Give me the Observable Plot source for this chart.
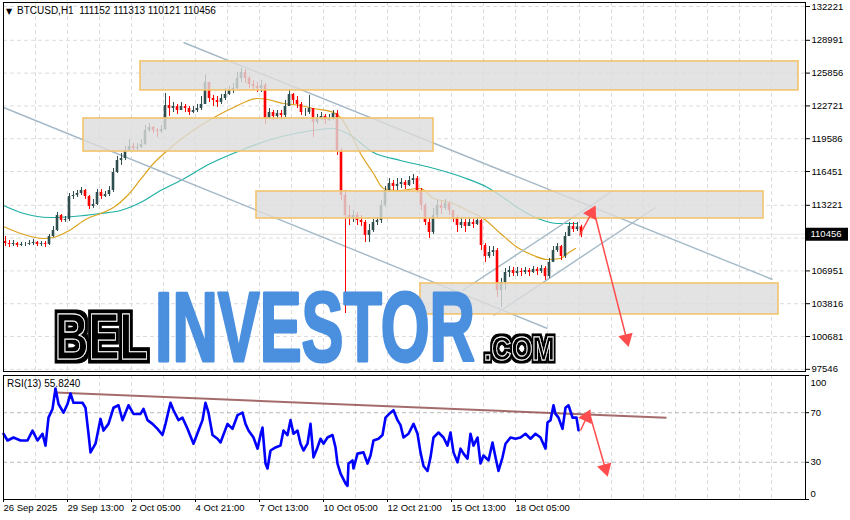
<!DOCTYPE html>
<html><head><meta charset="utf-8">
<script src="https://cdn.jsdelivr.net/npm/d3@7"></script>
<script src="https://cdn.jsdelivr.net/npm/@observablehq/plot@0.6"></script>
<style>
body{margin:0;background:#fff;}
#wrap{position:relative;width:850px;height:520px;overflow:hidden;font-family:"Liberation Sans",Arial,sans-serif;}
#wrap > *{position:absolute;left:0;}
</style></head><body><div id="wrap"></div>
<script>
// ---------- data ----------
const symbol = "BTCUSD,H1";
const lastOHLC = [111152, 111313, 110121, 110456];
const barHours = 4; // each candle = 4 hours, hour 0 = 26 Sep 2025 21:00
const firstOpen = 109760;
const closes = [
109570,109480,109570,109380,109480,109480,109570,109670,109480,109570,
109480,110240,110810,112250,111770,111860,114060,114160,114350,114640,
114060,113110,113300,114450,114060,114250,114640,116360,117500,117690,
118460,118840,118650,118750,119030,120370,120660,120370,120270,120470,
122760,122470,122660,122280,122660,122470,122090,122280,122470,122860,
124960,123430,123240,123050,123430,123810,124190,124380,125340,125910,
125340,124770,124570,124380,124670,121520,122090,121710,121990,121800,
122660,123810,123240,122860,122090,122090,122470,121140,121520,121710,
121330,121520,121990,118460,114160,112250,111960,112250,111770,111580,
110340,110810,111580,111770,113200,114640,115310,115020,115210,115400,
115110,115590,115780,114640,113200,111580,110620,112250,113200,112920,
113390,112730,111960,111290,111580,111200,111580,111390,111770,109380,
108330,108710,108900,105080,105840,106800,106990,106700,106900,106800,
106990,106800,107090,106900,107180,106420,107760,108900,109280,108330,
110240,111200,110910,111152,110456];
const highs = [
110240,109860,109860,109670,109670,109670,109860,109950,109760,109760,
109760,110430,111200,112530,112340,112150,114350,114540,114640,114920,
114730,114160,113780,114730,114730,114540,115020,116740,117890,118170,
118840,119510,119130,119130,119510,120850,121040,120750,120560,120850,
123910,123620,123050,122860,123050,122860,122660,122660,122860,123620,
125720,124770,123720,123620,123810,124380,124570,124860,125910,126300,
126200,125530,125150,124960,125150,124860,122470,122280,122280,122280,
123240,124290,123910,123620,123050,122470,123720,122470,121900,122090,
121900,121900,122280,122280,118650,114640,113200,112730,112530,112250,
111770,111390,111860,112060,113680,115020,115780,115590,115780,115780,
115590,115970,116170,115970,114830,113390,111960,112920,113680,113580,
113780,113490,112730,112250,112060,111860,112060,111860,112060,111860,
109570,109280,109280,109090,106230,107180,107370,107280,107280,107180,
107280,107180,107370,107280,107470,107370,108140,109280,109570,109380,
110620,111580,111580,111580,111313];
const lows = [
109280,109190,109280,109190,109280,109280,109380,109380,109280,109280,
109190,109380,110150,110720,111580,111580,111670,113780,113970,114160,
113780,112820,112920,113200,113780,113970,114060,114450,116260,117030,
117500,118460,118460,118460,118650,118940,120180,120080,119700,120080,
120370,121710,122090,121900,122280,122090,121800,121990,122090,122280,
122860,123050,122660,122570,122860,123240,123720,123910,124190,124960,
124860,124380,124190,124000,124000,120940,121520,121330,121520,121420,
121610,122660,122860,122470,121800,121710,121900,119700,120940,121330,
120940,121230,121330,117980,113680,102880,111290,111580,111290,111200,
109670,109670,110620,111290,111480,113010,114450,114640,114640,114830,
114730,115020,115210,114350,112730,111290,110050,110430,111960,112340,
112730,112250,111580,110620,111000,110620,111200,111000,111290,108900,
107760,108140,108330,104410,103460,105080,106320,106420,106420,106420,
106610,106420,106700,106510,106700,106040,106230,107760,108710,107950,
108140,110430,110620,110720,110121];

// moving averages (hour, price)
const maFastH = [0,17,40,50,64,84,97,110,124,137,150,164,177,197,207,230,254,264,280,297,310,330,337,347,357,370,380,394,417,430,447,464,480,497,514,530,544,557,564,572];
const maFast  = [111196,110527,110049,110145,110718,111960,112438,113011,114158,115688,117217,118459,119510,120848,121421,122568,123428,123333,122950,122759,122472,122090,121612,120083,118172,116261,114827,114636,114827,113872,113489,112725,111960,110527,109189,108424,108042,108138,108615,109093];
const maSlowH = [0,17,47,70,97,117,137,157,177,207,237,264,297,329,344,370,397,427,460,484,504,514,537,554,574];
const maSlow  = [113202,112534,112056,112151,112438,112725,113489,114636,115592,117216,118459,119415,120179,120561,120083,118268,117503,116834,115879,114923,113680,113011,111865,111482,111482];

// RSI(13)
const rsiH = [0,4,10,17,24,29,34,39,42,45, 49,52,55,60,64,67,70,79,82,85, 87,92,97,100,105,110,115,119,125,130,
137,140,144,149,154,159,162,167,170,175, 179,184,190,195,199,202,205,209,214,217, 224,229,234,239,242,245,250,254,257,259,
262,264,267,272,277,280,284,287,290,294, 297,300,304,307,310,314,317,320,324,329, 332,334,337,342,344,345,349,350,354,360,
364,367,370,375,379,382,387,390,394,397, 400,405,410,414,417,420,424,427,430,435, 440,444,447,450,454,457,460,464,467,470,
474,477,480,485,489,492,495,499,502,507, 512,517,522,527,532,537,542,544,547,550, 552,555,559,562,565,569,573,575];
const rsiV = [53,47.6,50,47.6,47.6,55.6,47.6,53,43.5,66, 73,89.5,77,70,77,85.5,78,78,74,53, 38,45,65,55.6,61,74,76,64,76,69,
69,73,64,61,57,52,61,78,72,64, 66,57,45,55.6,64,78,70,52,49,46, 61,57,68,70,61,55.6,50,41,52,58,
29,25,39.5,42,43.5,55.6,52,64,53,55.6, 45,39.5,45,61,34,42,49,45,50,52, 42,29,21,13,11,29,31.5,25,37,38,
29,35.5,47.6,49,52,66,70,72,64,60, 50,53,61,53,38,27,23,34,50,54, 50,43.5,54,38,30,41,37,33,53,43.5,
50,29,35.5,31.5,46,34,23,34,45,50, 49,50,53,49,53,50,41,62,64,76, 69,66,57,74,76,66,66,55.82];
const rsiLabel = "RSI(13) 55.8240";

// axis ticks
const priceTicks = [132221,128991,125856,122721,119586,116451,113221,110086,106951,103816,100681,97546];
const hiddenTick = 110086; // covered by the current-price label
const timeTickH = [0,64,128,192,256,320,384,448,512];
const timeLabels = ["26 Sep 2025","29 Sep 13:00","2 Oct 05:00","4 Oct 21:00","7 Oct 13:00","10 Oct 05:00","12 Oct 21:00","15 Oct 13:00","18 Oct 05:00"];
const gridH = d3.range(32, 800, 32);

// zones (support / resistance)
const zoneFromH = [137, 80, 253, 417];
const zoneToH   = [795, 430, 760, 775];
const zoneLow   = [124200, 118360, 111960, 102790];
const zoneHigh  = [126970, 121520, 114540, 105750];

// channel lines
const chX1 = [180, 0, 459, 490], chP1 = [128780, 122568, 105079, 102690];
const chX2 = [769, 544, 607, 652], chP2 = [106130, 101447, 114445, 113011];

// forecast arrows
const arX1 = [576, 590], arP1 = [110336, 112820], arX2 = [590, 624], arP2 = [112820, 100109];
const rArX1 = [577, 586], rArV1 = [55.6, 69.4], rArX2 = [585, 603], rArV2 = [69.4, 21.8];
const rsiTrendH = [52, 663], rsiTrendV = [86.3, 66];

// ---------- build ----------
const opens = [firstOpen].concat(closes.slice(0, -1));
const candles = closes.map((c, i) => ({h: i * barHours, o: opens[i], c, hi: Math.max(highs[i], opens[i], c), lo: Math.min(lows[i], opens[i], c)}));
const col = d => d.c >= d.o ? "#2f4f4f" : "#ff0000";
const zones = zoneFromH.map((x1, i) => ({x1, x2: zoneToH[i], y1: zoneLow[i], y2: zoneHigh[i]}));
const channels = chX1.map((x1, i) => ({x1, y1: chP1[i], x2: chX2[i], y2: chP2[i]}));
const fast = maFastH.map((h, i) => ({h, v: maFast[i]}));
const slow = maSlowH.map((h, i) => ({h, v: maSlow[i]}));
const rsi = rsiH.map((h, i) => ({h, v: rsiV[i]}));
const last = lastOHLC[3];

const W = 850, mL = 3, mR = 45;
const xDomain = [0, 802];
const mainH = 372, mT = 2, mB = 1;
const priceDomain = [97338, 132603];
const pxX = (W - mL - mR) / (xDomain[1] - xDomain[0]);
const pxYmain = (mainH - mT - mB) / (priceDomain[1] - priceDomain[0]);
const rsiHgt = 148, rT = 3, rB = 21;
const pxYrsi = (rsiHgt - rT - rB) / 100;

function heads(x1s, y1s, x2s, y2s, pxY) {
  return x1s.map((x1, i) => {
    const sx = (x2s[i] - x1) * pxX, sy = -(y2s[i] - y1s[i]) * pxY;
    const len = Math.hypot(sx, sy), ux = sx / len, uy = sy / len, back = 4;
    return {x: x2s[i] - ux * back / pxX, y: y2s[i] + uy * back / pxY, rot: Math.atan2(ux, -uy) * 180 / Math.PI};
  });
}
const arrowColor = "#ff4d4d";
const arrows = arX1.map((x1, i) => ({x1, y1: arP1[i], x2: arX2[i], y2: arP2[i]}));
const rArrows = rArX1.map((x1, i) => ({x1, y1: rArV1[i], x2: rArX2[i], y2: rArV2[i]}));
const style = {fontFamily: "'Liberation Sans', Arial, sans-serif", fontSize: "9.5px", color: "#000", background: "#fff", overflow: "visible"};

const main = Plot.plot({
  width: W, height: mainH, marginLeft: mL, marginRight: mR, marginTop: mT, marginBottom: mB,
  style,
  x: {domain: xDomain, axis: null},
  y: {domain: priceDomain},
  marks: [
    Plot.ruleX(gridH, {stroke: "#dcdcdc", strokeDasharray: "4,3"}),
    Plot.ruleY(priceTicks, {stroke: "#dcdcdc", strokeDasharray: "4,3"}),
    Plot.ruleY([last], {stroke: "#e2e2e2"}),
    Plot.line(slow, {x: "h", y: "v", stroke: "#1fb0a4", strokeWidth: 1.2, curve: "monotone-x"}),
    Plot.line(fast, {x: "h", y: "v", stroke: "#dca21c", strokeWidth: 1.2, curve: "monotone-x"}),
    Plot.link(channels, {x1: "x1", y1: "y1", x2: "x2", y2: "y2", stroke: "#a4b9c7", strokeWidth: 1.4}),
    Plot.ruleX(candles, {x: d => d.h + 2, y1: "lo", y2: "hi", stroke: col, strokeWidth: 1}),
    Plot.rect(candles, {x1: d => d.h + 0.7, x2: d => d.h + 3.3, y1: "o", y2: "c", fill: col}),
    Plot.rect(zones, {x1: "x1", x2: "x2", y1: "y1", y2: "y2", fill: "#dcdcdc", fillOpacity: 0.8, stroke: "#f3c46c", strokeWidth: 1.6}),
    Plot.link(arrows, {x1: "x1", y1: "y1", x2: "x2", y2: "y2", stroke: arrowColor, strokeWidth: 1.5}),
    Plot.dot(heads(arX1, arP1, arX2, arP2, pxYmain), {x: "x", y: "y", rotate: "rot", symbol: "triangle", r: 5.5, fill: arrowColor}),
    Plot.axisY(priceTicks, {anchor: "right", tickSize: 4, tickPadding: 2, tickFormat: d => d === hiddenTick ? "" : String(d), label: null}),
    Plot.ruleY([last], {x1: xDomain[1] + 1, x2: xDomain[1] + 43, stroke: "#000", strokeWidth: 13}),
    Plot.text([last], {y: d => d, frameAnchor: "right", dx: 5, textAnchor: "start", fill: "#fff", text: d => String(d)}),
    Plot.frame({stroke: "#000"})
  ]
});
main.style.top = "0px";

const labelMap = new Map(timeTickH.map((h, i) => [h, timeLabels[i]]));
const rsiPlot = Plot.plot({
  width: W, height: rsiHgt, marginLeft: mL, marginRight: mR, marginTop: rT, marginBottom: rB,
  style,
  x: {domain: xDomain},
  y: {domain: [0, 100]},
  marks: [
    Plot.ruleX(gridH, {stroke: "#dcdcdc", strokeDasharray: "4,3"}),
    Plot.ruleY([30, 70], {stroke: "#b9b9b9", strokeDasharray: "4,3"}),
    Plot.link([{x1: rsiTrendH[0], y1: rsiTrendV[0], x2: rsiTrendH[1], y2: rsiTrendV[1]}], {x1: "x1", y1: "y1", x2: "x2", y2: "y2", stroke: "#8e4646", strokeOpacity: 0.8, strokeWidth: 2}),
    Plot.line(rsi, {x: "h", y: "v", stroke: "#0000ff", strokeWidth: 2.6}),
    Plot.link(rArrows, {x1: "x1", y1: "y1", x2: "x2", y2: "y2", stroke: arrowColor, strokeWidth: 1.5}),
    Plot.dot(heads(rArX1, rArV1, rArX2, rArV2, pxYrsi), {x: "x", y: "y", rotate: "rot", symbol: "triangle", r: 5.5, fill: arrowColor}),
    Plot.axisX(timeTickH, {anchor: "bottom", tickSize: 3, tickPadding: 2, tickFormat: d => labelMap.get(d), textAnchor: "start", label: null}),
    Plot.axisY([0, 30, 70, 100], {anchor: "right", tickSize: 3, tickPadding: 2, tickFormat: d => (d === 30 || d === 70) ? String(d) : "", label: null}),
    Plot.text([100], {y: d => d, frameAnchor: "right", dx: 5, dy: 7, textAnchor: "start", text: d => String(d)}),
    Plot.text([0], {y: d => d, frameAnchor: "right", dx: 5, dy: -6, textAnchor: "start", text: d => String(d)}),
    Plot.frame({stroke: "#000"})
  ]
});
rsiPlot.style.top = mainH + "px";

const wrap = document.getElementById("wrap");
wrap.appendChild(main);
wrap.appendChild(rsiPlot);

// overlay: header texts and watermark logo
const ns = "http://www.w3.org/2000/svg";
const ov = document.createElementNS(ns, "svg");
ov.setAttribute("width", W); ov.setAttribute("height", 520);
ov.style.top = "0px"; ov.style.pointerEvents = "none";
ov.innerHTML = `
<defs>
  <filter id="outl" x="-6%" y="-20%" width="112%" height="140%">
    <feMorphology in="SourceAlpha" operator="dilate" radius="3.5" result="d"/>
    <feFlood flood-color="#000"/>
    <feComposite in2="d" operator="in" result="o"/>
    <feMerge><feMergeNode in="o"/><feMergeNode in="SourceGraphic"/></feMerge>
  </filter>
  <filter id="outl2" x="-6%" y="-30%" width="112%" height="160%">
    <feMorphology in="SourceAlpha" operator="dilate" radius="2.5" result="d"/>
    <feFlood flood-color="#000"/>
    <feComposite in2="d" operator="in" result="o"/>
    <feMerge><feMergeNode in="o"/><feMergeNode in="SourceGraphic"/></feMerge>
  </filter>
</defs>
<text x="6" y="14" font-size="8" font-family="DejaVu Sans, sans-serif">▼</text>
<text x="17" y="14" font-size="10" font-family="Liberation Sans, Arial" style="white-space:pre">${symbol}  ${lastOHLC.join(" ")}</text>
<text x="7" y="387" font-size="10" font-family="Liberation Sans, Arial">${rsiLabel}</text>
<g font-family="'Liberation Sans',Arial" font-weight="bold">
  <text class="logo" data-x="55" data-y="359" data-w="93" font-size="64" fill="#000" stroke="#fff" stroke-width="1.1" filter="url(#outl)">BEL</text>
  <text class="logo" data-x="155" data-y="361" data-w="320" font-size="98" fill="#4b8fdf" stroke="#4b8fdf" stroke-width="3" stroke-linejoin="round">INVESTOR</text>
  <text class="logo" data-x="484" data-y="360" data-w="71" font-size="33" fill="#000" stroke="#fff" stroke-width="0.9" filter="url(#outl2)">.COM</text>
</g>`;
wrap.appendChild(ov);
// squeeze each logo word horizontally to its width
ov.querySelectorAll("text.logo").forEach(el => {
  const len = el.getComputedTextLength();
  const sx = (+el.dataset.w) / len;
  el.setAttribute("transform", `translate(${el.dataset.x},${el.dataset.y}) scale(${sx},1)`);
});
</script>
</body></html>
